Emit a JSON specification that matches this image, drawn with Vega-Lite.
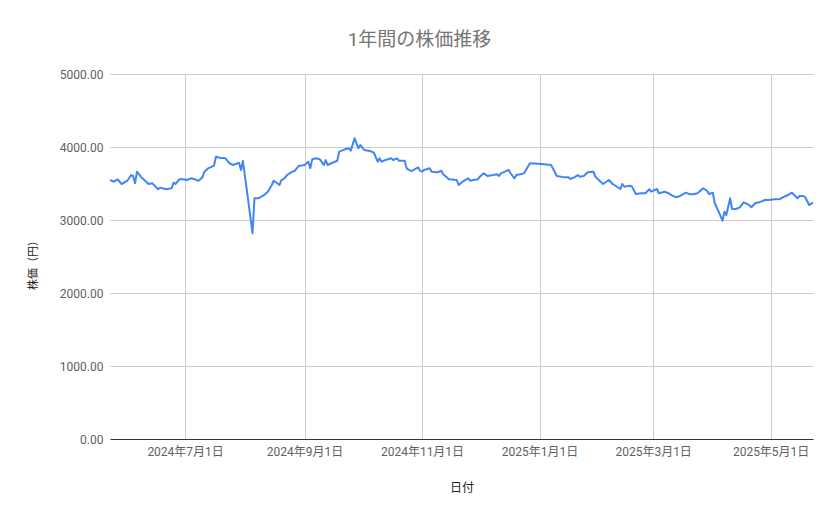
{
  "$schema": "https://vega.github.io/schema/vega-lite/v6.json",
  "width": 703,
  "height": 365,
  "autosize": {"type": "none"},
  "padding": {"left": 110, "top": 74, "right": 26, "bottom": 80},
  "background": "#ffffff",
  "title": {
    "text": "1年間の株価推移",
    "anchor": "middle",
    "frame": "group",
    "dx": -42,
    "offset": 18,
    "fontSize": 19,
    "fontWeight": "normal",
    "font": "Roboto, Noto Sans CJK JP, sans-serif",
    "color": "#757575"
  },
  "data": {
    "values": [
      {"date": "2024/05/23", "price": 3548},
      {"date": "2024/05/25", "price": 3525},
      {"date": "2024/05/27", "price": 3557},
      {"date": "2024/05/29", "price": 3493},
      {"date": "2024/06/01", "price": 3538},
      {"date": "2024/06/03", "price": 3616},
      {"date": "2024/06/04", "price": 3603},
      {"date": "2024/06/05", "price": 3502},
      {"date": "2024/06/06", "price": 3662},
      {"date": "2024/06/08", "price": 3593},
      {"date": "2024/06/12", "price": 3493},
      {"date": "2024/06/14", "price": 3502},
      {"date": "2024/06/17", "price": 3421},
      {"date": "2024/06/18", "price": 3443},
      {"date": "2024/06/21", "price": 3421},
      {"date": "2024/06/24", "price": 3434},
      {"date": "2024/06/25", "price": 3511},
      {"date": "2024/06/26", "price": 3493},
      {"date": "2024/06/28", "price": 3557},
      {"date": "2024/06/30", "price": 3557},
      {"date": "2024/07/02", "price": 3548},
      {"date": "2024/07/04", "price": 3571},
      {"date": "2024/07/06", "price": 3557},
      {"date": "2024/07/08", "price": 3538},
      {"date": "2024/07/10", "price": 3584},
      {"date": "2024/07/11", "price": 3662},
      {"date": "2024/07/13", "price": 3708},
      {"date": "2024/07/16", "price": 3744},
      {"date": "2024/07/17", "price": 3867},
      {"date": "2024/07/19", "price": 3853},
      {"date": "2024/07/22", "price": 3845},
      {"date": "2024/07/24", "price": 3777},
      {"date": "2024/07/26", "price": 3753},
      {"date": "2024/07/29", "price": 3785},
      {"date": "2024/07/30", "price": 3685},
      {"date": "2024/07/31", "price": 3808},
      {"date": "2024/08/02", "price": 3420},
      {"date": "2024/08/05", "price": 2820},
      {"date": "2024/08/06", "price": 3297},
      {"date": "2024/08/08", "price": 3297},
      {"date": "2024/08/11", "price": 3342},
      {"date": "2024/08/13", "price": 3388},
      {"date": "2024/08/15", "price": 3479},
      {"date": "2024/08/16", "price": 3538},
      {"date": "2024/08/19", "price": 3479},
      {"date": "2024/08/20", "price": 3548},
      {"date": "2024/08/21", "price": 3557},
      {"date": "2024/08/23", "price": 3616},
      {"date": "2024/08/25", "price": 3653},
      {"date": "2024/08/27", "price": 3675},
      {"date": "2024/08/29", "price": 3740},
      {"date": "2024/09/01", "price": 3753},
      {"date": "2024/09/03", "price": 3799},
      {"date": "2024/09/04", "price": 3708},
      {"date": "2024/09/05", "price": 3831},
      {"date": "2024/09/07", "price": 3845},
      {"date": "2024/09/09", "price": 3831},
      {"date": "2024/09/11", "price": 3753},
      {"date": "2024/09/12", "price": 3822},
      {"date": "2024/09/13", "price": 3753},
      {"date": "2024/09/15", "price": 3777},
      {"date": "2024/09/18", "price": 3812},
      {"date": "2024/09/19", "price": 3936},
      {"date": "2024/09/22", "price": 3968},
      {"date": "2024/09/24", "price": 3982},
      {"date": "2024/09/25", "price": 3950},
      {"date": "2024/09/27", "price": 4119},
      {"date": "2024/09/29", "price": 3982},
      {"date": "2024/09/30", "price": 4027},
      {"date": "2024/10/02", "price": 3959},
      {"date": "2024/10/05", "price": 3945},
      {"date": "2024/10/07", "price": 3922},
      {"date": "2024/10/09", "price": 3799},
      {"date": "2024/10/10", "price": 3845},
      {"date": "2024/10/11", "price": 3799},
      {"date": "2024/10/13", "price": 3822},
      {"date": "2024/10/16", "price": 3845},
      {"date": "2024/10/17", "price": 3822},
      {"date": "2024/10/19", "price": 3845},
      {"date": "2024/10/20", "price": 3813},
      {"date": "2024/10/23", "price": 3813},
      {"date": "2024/10/24", "price": 3708},
      {"date": "2024/10/26", "price": 3675},
      {"date": "2024/10/27", "price": 3675},
      {"date": "2024/10/30", "price": 3722},
      {"date": "2024/10/31", "price": 3675},
      {"date": "2024/11/01", "price": 3662},
      {"date": "2024/11/02", "price": 3685},
      {"date": "2024/11/05", "price": 3708},
      {"date": "2024/11/06", "price": 3662},
      {"date": "2024/11/09", "price": 3653},
      {"date": "2024/11/11", "price": 3675},
      {"date": "2024/11/12", "price": 3626},
      {"date": "2024/11/15", "price": 3557},
      {"date": "2024/11/19", "price": 3548},
      {"date": "2024/11/20", "price": 3480},
      {"date": "2024/11/22", "price": 3525},
      {"date": "2024/11/25", "price": 3571},
      {"date": "2024/11/26", "price": 3538},
      {"date": "2024/11/30", "price": 3557},
      {"date": "2024/12/01", "price": 3593},
      {"date": "2024/12/03", "price": 3639},
      {"date": "2024/12/05", "price": 3603},
      {"date": "2024/12/08", "price": 3616},
      {"date": "2024/12/10", "price": 3626},
      {"date": "2024/12/11", "price": 3603},
      {"date": "2024/12/12", "price": 3639},
      {"date": "2024/12/14", "price": 3662},
      {"date": "2024/12/16", "price": 3685},
      {"date": "2024/12/17", "price": 3639},
      {"date": "2024/12/19", "price": 3571},
      {"date": "2024/12/20", "price": 3616},
      {"date": "2024/12/22", "price": 3626},
      {"date": "2024/12/24", "price": 3639},
      {"date": "2024/12/27", "price": 3777},
      {"date": "2025/01/02", "price": 3767},
      {"date": "2025/01/07", "price": 3753},
      {"date": "2025/01/10", "price": 3603},
      {"date": "2025/01/14", "price": 3584},
      {"date": "2025/01/16", "price": 3584},
      {"date": "2025/01/17", "price": 3562},
      {"date": "2025/01/19", "price": 3584},
      {"date": "2025/01/21", "price": 3616},
      {"date": "2025/01/22", "price": 3593},
      {"date": "2025/01/24", "price": 3603},
      {"date": "2025/01/26", "price": 3653},
      {"date": "2025/01/29", "price": 3662},
      {"date": "2025/01/30", "price": 3593},
      {"date": "2025/02/03", "price": 3493},
      {"date": "2025/02/06", "price": 3548},
      {"date": "2025/02/08", "price": 3493},
      {"date": "2025/02/12", "price": 3425},
      {"date": "2025/02/13", "price": 3493},
      {"date": "2025/02/14", "price": 3457},
      {"date": "2025/02/17", "price": 3470},
      {"date": "2025/02/18", "price": 3457},
      {"date": "2025/02/20", "price": 3356},
      {"date": "2025/02/23", "price": 3366},
      {"date": "2025/02/25", "price": 3366},
      {"date": "2025/02/27", "price": 3421},
      {"date": "2025/02/28", "price": 3388},
      {"date": "2025/03/03", "price": 3425},
      {"date": "2025/03/04", "price": 3366},
      {"date": "2025/03/07", "price": 3388},
      {"date": "2025/03/09", "price": 3366},
      {"date": "2025/03/11", "price": 3333},
      {"date": "2025/03/13", "price": 3311},
      {"date": "2025/03/15", "price": 3329},
      {"date": "2025/03/18", "price": 3374},
      {"date": "2025/03/20", "price": 3352},
      {"date": "2025/03/22", "price": 3352},
      {"date": "2025/03/24", "price": 3366},
      {"date": "2025/03/27", "price": 3434},
      {"date": "2025/03/29", "price": 3401},
      {"date": "2025/03/30", "price": 3356},
      {"date": "2025/04/01", "price": 3374},
      {"date": "2025/04/02", "price": 3229},
      {"date": "2025/04/04", "price": 3114},
      {"date": "2025/04/06", "price": 2990},
      {"date": "2025/04/07", "price": 3114},
      {"date": "2025/04/08", "price": 3068},
      {"date": "2025/04/10", "price": 3297},
      {"date": "2025/04/11", "price": 3151},
      {"date": "2025/04/13", "price": 3151},
      {"date": "2025/04/15", "price": 3174},
      {"date": "2025/04/17", "price": 3242},
      {"date": "2025/04/20", "price": 3205},
      {"date": "2025/04/21", "price": 3174},
      {"date": "2025/04/23", "price": 3229},
      {"date": "2025/04/25", "price": 3242},
      {"date": "2025/04/28", "price": 3274},
      {"date": "2025/04/30", "price": 3274},
      {"date": "2025/05/03", "price": 3283},
      {"date": "2025/05/06", "price": 3288},
      {"date": "2025/05/08", "price": 3319},
      {"date": "2025/05/10", "price": 3342},
      {"date": "2025/05/12", "price": 3374},
      {"date": "2025/05/15", "price": 3297},
      {"date": "2025/05/16", "price": 3329},
      {"date": "2025/05/18", "price": 3329},
      {"date": "2025/05/19", "price": 3311},
      {"date": "2025/05/21", "price": 3205},
      {"date": "2025/05/23", "price": 3237}
    ]
  },
  "mark": {"type": "line", "color": "#4285f4", "strokeWidth": 2, "strokeJoin": "round"},
  "encoding": {
    "x": {
      "field": "date",
      "type": "temporal",
      "title": "日付",
      "scale": {
        "domain": [
          {"year": 2024, "month": 5, "date": 23},
          {"year": 2025, "month": 5, "date": 23}
        ],
        "nice": false
      },
      "axis": {
        "format": "%Y年%-m月%-d日",
        "tickCount": {"interval": "month", "step": 2},
        "labelFontSize": 12,
        "labelColor": "#5f5f5f",
        "labelPadding": 7,
        "ticks": false,
        "domainColor": "#333333",
        "gridColor": "#cccccc",
        "titleFontSize": 12,
        "titleFontWeight": "normal",
        "titleColor": "#222222",
        "titleBaseline": "middle",
        "titleY": 48
      }
    },
    "y": {
      "field": "price",
      "type": "quantitative",
      "title": "株価（円）",
      "scale": {"domain": [0, 5000], "nice": false},
      "axis": {
        "values": [0, 1000, 2000, 3000, 4000, 5000],
        "format": ".2f",
        "labelFontSize": 12,
        "labelColor": "#5f5f5f",
        "labelPadding": 7,
        "ticks": false,
        "domain": false,
        "gridColor": "#cccccc",
        "titleFontSize": 11,
        "titleFontWeight": "normal",
        "titleColor": "#222222",
        "titleBaseline": "middle",
        "titleAlign": "center",
        "titleAngle": -90,
        "titleX": -77,
        "titleY": 188
      }
    }
  },
  "config": {
    "font": "Roboto, Noto Sans CJK JP, sans-serif",
    "view": {"stroke": null}
  }
}
